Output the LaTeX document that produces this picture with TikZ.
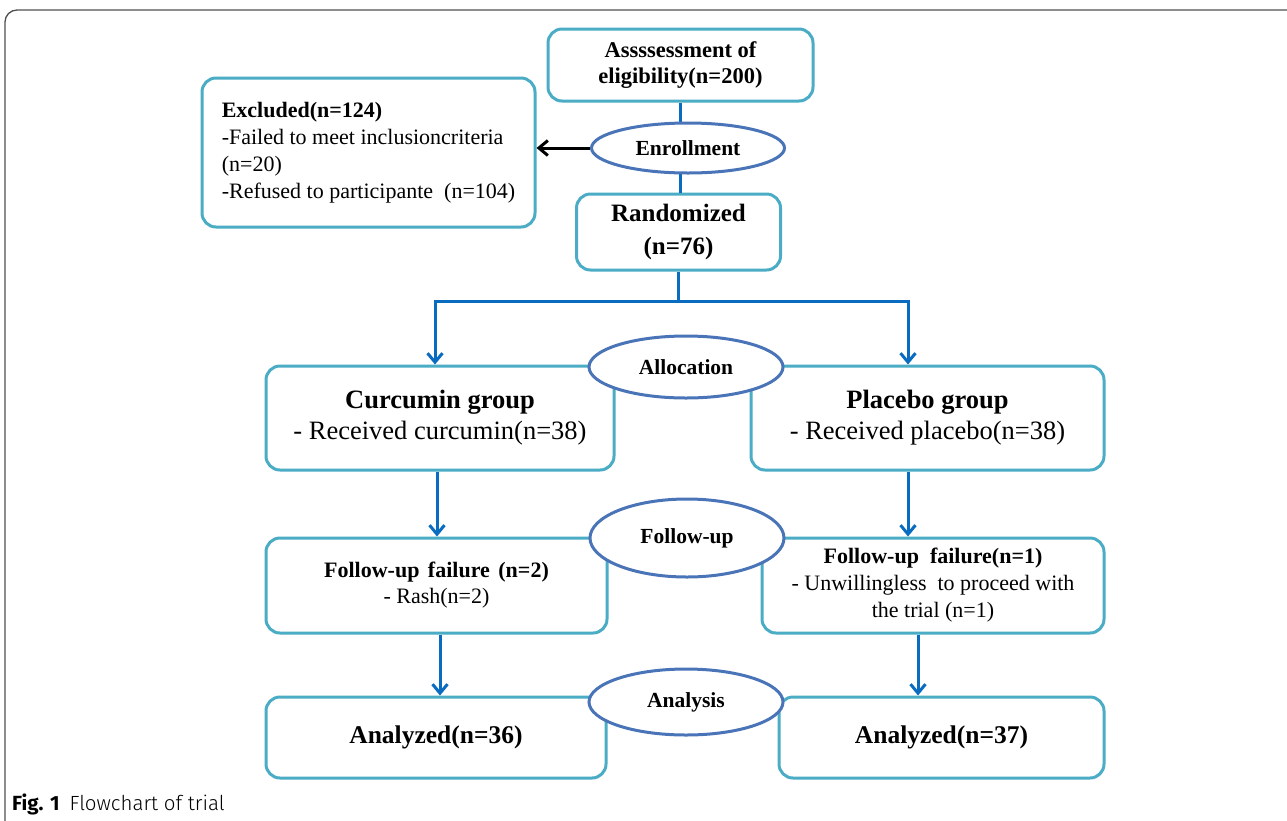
\documentclass[tikz,border=0pt]{standalone}
\usepackage{fontspec}
\setmainfont{Liberation Serif}
\newfontfamily\capfont{Fira Sans}
\newfontfamily\caplight{Fira Sans Light}
\usetikzlibrary{shapes.geometric,arrows.meta,calc}
\definecolor{boxc}{HTML}{4BACC6}
\definecolor{ovc}{HTML}{4A74B8}
\definecolor{linec}{HTML}{0A6CC0}
\definecolor{framec}{HTML}{505050}
\tikzset{
  box/.style={draw=boxc, line width=3pt, rounded corners=14pt, fill=white, align=center, inner sep=0pt},
  oval/.style={ellipse, draw=ovc, line width=3pt, fill=white, inner sep=0pt, font=\bfseries\fontsize{21.5}{24}\selectfont},
  conn/.style={draw=linec, line width=3pt},
  arr/.style={conn, -{Straight Barb[length=9pt,width=15pt]}},
  blk/.style={draw=black, line width=3pt, -{Straight Barb[length=9pt,width=15pt]}},
  bigt/.style={font=\fontsize{26.5}{31}\selectfont},
}
\begin{document}
\begin{tikzpicture}[x=1pt,y=-1pt]
\useasboundingbox (0,0) rectangle (1287,820);
\fill[white] (0,0) rectangle (1287,820);
\draw[framec, line width=1.3pt, rounded corners=12pt] (1300,10) -- (5,10) -- (5,830);

% boxes
\node[box, font=\bfseries\fontsize{22.5}{25.5}\selectfont, minimum width=265, minimum height=72] (assess) at (680.5,65)
  {Assssessment of\\eligibility(n=200)};
\node[box, font=\fontsize{22}{27}\selectfont, align=left, minimum width=333, minimum height=149] (excl) at (368.5,152.5)
  {{\bfseries Excluded(n=124)}\\-Failed to meet inclusioncriteria\\(n=20)\\-Refused to participante\ \ (n=104)};
\node[box, font=\bfseries\fontsize{25}{33}\selectfont, minimum width=204, minimum height=76] (rand) at (678.5,232)
  {Randomized\\(n=76)};

\node[box, bigt, minimum width=348, minimum height=104] (curc) at (440,418)
  {{\bfseries Curcumin group}\\- Received curcumin(n=38)};
\node[box, bigt, minimum width=353, minimum height=104] (plac) at (927.5,418)
  {{\bfseries Placebo group}\\- Received placebo(n=38)};

\node[box, font=\fontsize{22}{26}\selectfont, minimum width=341, minimum height=95] (fuL) at (436.5,585.5)
  {{\bfseries Follow-up\hspace{3pt} failure\hspace{3pt} (n=2)}\\- Rash(n=2)};
\node[box, font=\fontsize{22}{27}\selectfont, minimum width=342, minimum height=95] (fuR) at (933,585.5)
  {{\bfseries Follow-up\ \ failure(n=1)}\\- Unwillingless\ \ to proceed with\\the trial (n=1)};

\node[box, font=\bfseries\fontsize{25.5}{30}\selectfont, minimum width=340, minimum height=81] (aL) at (436,737.5) {Analyzed(n=36)};
\node[box, font=\bfseries\fontsize{25.5}{30}\selectfont, minimum width=325, minimum height=81] (aR) at (941.5,737.5) {Analyzed(n=37)};

% connectors
\coordinate (split) at (678.5,301);
\draw[conn] (assess.south) -- (assess.south |- rand.north);
\draw[arr] (rand.south) -- (split) -| ([xshift=-5pt]curc.north);
\draw[arr] (split) -| ([xshift=-19.5pt]plac.north);
\draw[arr] ([xshift=-3pt]curc.south) -- ([xshift=-3pt]curc.south |- fuL.north);
\draw[arr] ([xshift=-19.5pt]plac.south) -- ([xshift=-19.5pt]plac.south |- fuR.north);
\draw[arr] ([xshift=3.5pt]fuL.south) -- ([xshift=3.5pt]fuL.south |- aL.north);
\draw[arr] ([xshift=-15pt]fuR.south) -- ([xshift=-15pt]fuR.south |- aR.north);

% ellipses
\node[oval, minimum width=193, minimum height=50] (enroll) at (688,148) {Enrollment};
\node[oval, minimum width=194, minimum height=62] (alloc) at (686,367) {Allocation};
\node[oval, minimum width=194, minimum height=78] (follow) at (687,538) {Follow-up};
\node[oval, minimum width=194, minimum height=66] (anal) at (686,702) {Analysis};

\draw[blk] (enroll.west) -- (enroll.west -| excl.east);

% caption
\node[anchor=base west, inner sep=0pt, font=\capfont\fontsize{20.5}{24}\selectfont] (cap) at (12,810)
  {{\bfseries Fig. 1}\hspace{10pt}{\caplight Flowchart of trial}};
\end{tikzpicture}
\end{document}
